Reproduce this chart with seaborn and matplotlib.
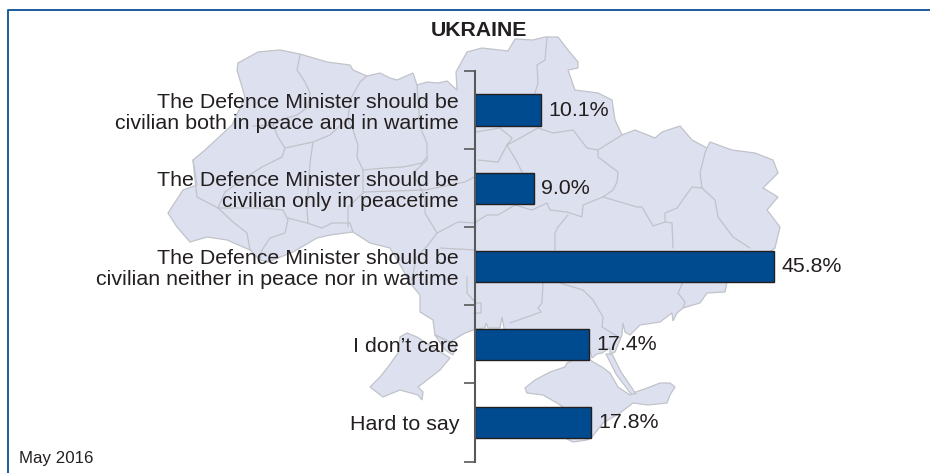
import matplotlib
matplotlib.use('Agg')
import matplotlib.pyplot as plt
import seaborn as sns
import pandas as pd

categories = [
    'The Defence Minister should be\ncivilian both in peace and in wartime',
    'The Defence Minister should be\ncivilian only in peacetime',
    'The Defence Minister should be\ncivilian neither in peace nor in wartime',
    'I don\u2019t care',
    'Hard to say',
]
values = [10.1, 9.0, 45.8, 17.4, 17.8]

TEXT = '#231f20'
BAR = '#004a90'
AXIS = '#58595b'
MAP_FILL = '#dde0ee'
MAP_EDGE = '#c1c3ca'
FRAME = '#1c5b9c'

# backdrop map, traced in picture pixels
mainland = [
    (237, 70), (238, 63), (258, 52), (280, 50), (300, 54), (327, 62), (350, 65),
    (353, 70), (367, 76), (380, 73), (390, 78), (397, 80), (413, 73), (417, 85),
    (427, 82), (438, 83), (447, 81), (457, 90), (456, 72), (467, 52), (482, 48),
    (508, 51), (515, 39), (533, 40), (545, 37), (558, 37), (568, 50), (578, 62),
    (578, 68), (568, 70), (575, 90), (598, 93), (612, 100), (615, 120), (622, 135),
    (635, 130), (655, 138), (662, 132), (680, 126), (692, 140), (707, 148),
    (710, 142), (732, 150), (755, 153), (773, 160), (778, 173), (763, 188),
    (778, 197), (767, 210), (780, 227), (775, 248), (727, 282), (725, 292),
    (707, 293), (700, 303), (693, 305), (683, 308), (677, 313), (673, 321),
    (672, 313), (660, 322), (640, 325), (630, 335), (625, 332), (623, 323),
    (622, 335), (615, 352), (610, 354), (610, 348), (602, 353), (597, 354),
    (592, 358), (588, 345), (504, 340), (504, 328), (502, 317), (500, 328),
    (488, 328), (486, 323), (485, 328), (476, 329), (465, 333), (450, 342),
    (435, 335), (433, 320), (420, 312), (420, 295), (410, 283), (403, 270),
    (390, 248), (370, 243), (353, 232), (330, 235), (317, 238), (293, 252),
    (268, 262), (260, 260), (250, 250), (227, 240), (207, 237), (190, 242),
    (177, 227), (168, 213), (183, 190), (197, 185), (193, 160), (205, 150),
    (232, 125), (245, 97),
]
odesa_south = [
    (400, 337), (407, 333), (417, 337), (450, 358), (440, 370), (418, 387),
    (423, 392), (422, 400), (418, 395), (400, 390), (383, 397), (370, 387),
    (380, 377), (388, 367), (398, 353),
]
liman_tip = [(435, 335), (450, 342), (456, 347), (453, 355), (445, 350)]
crimea = [
    (585, 355), (567, 363), (565, 367), (550, 372), (535, 380), (525, 388),
    (527, 393), (543, 395), (557, 403), (563, 407), (565, 438), (573, 442),
    (587, 440), (592, 437), (603, 423), (620, 413), (633, 403), (648, 405),
    (667, 403), (670, 395), (675, 387), (670, 383), (660, 383), (650, 387),
    (633, 393), (630, 395), (618, 387), (610, 373), (602, 367), (593, 362),
]
spit = [(606, 354), (612, 354), (621, 372), (636, 394), (631, 394), (616, 374)]

borders = [
    [(300, 55), (297, 70), (305, 82), (310, 93), (308, 107), (297, 115), (280, 120), (273, 125), (253, 126)],
    [(273, 125), (278, 137), (285, 148), (282, 157), (262, 167), (245, 178), (225, 192), (218, 208)],
    [(193, 160), (195, 180), (197, 197), (218, 208), (233, 222), (247, 233), (250, 250)],
    [(218, 208), (263, 208), (283, 210), (288, 220), (285, 233), (270, 238), (262, 250), (260, 260)],
    [(288, 218), (307, 223), (322, 228), (332, 223), (350, 223), (353, 232)],
    [(285, 148), (313, 142), (310, 163), (308, 193), (307, 210), (308, 223)],
    [(313, 142), (330, 135), (343, 123)],
    [(367, 76), (360, 82), (350, 100), (348, 120), (353, 130), (358, 145), (357, 157), (363, 170), (385, 168), (403, 167), (422, 163), (427, 157)],
    [(363, 170), (363, 193), (348, 207), (348, 227)],
    [(417, 85), (420, 127), (427, 143), (427, 160), (413, 173), (425, 197), (425, 213), (437, 233), (428, 245)],
    [(363, 192), (425, 190), (465, 182), (476, 176)],
    [(437, 233), (458, 222), (476, 223)],
    [(428, 245), (416, 258), (412, 280)],
    [(440, 248), (476, 250)],
    [(467, 277), (467, 293), (476, 303), (481, 303), (481, 313), (474, 313)],
    [(476, 132), (500, 128), (512, 138), (507, 145), (520, 138), (538, 128), (553, 133), (573, 130), (587, 148), (598, 150), (622, 135)],
    [(598, 150), (598, 157), (618, 172), (617, 182), (613, 190), (603, 197), (583, 205), (582, 217), (567, 212), (550, 210), (547, 203), (532, 210), (515, 205), (498, 215), (487, 215), (476, 222)],
    [(507, 145), (498, 162), (478, 160)],
    [(507, 145), (517, 162), (522, 172)],
    [(603, 197), (637, 207), (642, 207), (653, 226), (665, 222), (672, 223), (673, 248)],
    [(665, 222), (665, 213), (677, 208), (692, 187), (702, 188), (700, 173), (705, 153), (707, 148)],
    [(702, 188), (715, 200), (718, 217), (733, 237), (750, 248)],
    [(568, 215), (558, 227), (555, 233), (555, 250)],
    [(543, 282), (542, 303), (538, 308), (541, 312), (510, 323)],
    [(560, 283), (583, 290), (593, 300), (603, 317), (602, 327), (620, 338)],
    [(683, 282), (678, 293), (685, 302), (683, 308)],
    [(547, 37), (545, 60), (537, 65), (538, 83), (535, 93)],
]

sns.set_theme(style='white')
plt.rcParams['font.family'] = ['Liberation Sans', 'DejaVu Sans']

W, H = 930, 473
fig = plt.figure(figsize=(W / 100, H / 100), dpi=100, facecolor='white')

# full figure axes in pixels for the backdrop
bg = fig.add_axes([0, 0, 1, 1], zorder=0)
bg.set_xlim(0, W)
bg.set_ylim(H, 0)
bg.axis('off')
for shape in [mainland, odesa_south, liman_tip, crimea, spit]:
    bg.fill(*zip(*shape), facecolor=MAP_FILL, edgecolor=MAP_EDGE, linewidth=0.9)
for line in borders:
    bg.plot(*zip(*line), color=MAP_EDGE, linewidth=0.9)
bg.plot([7.5, 7.5, W], [H, 10, 10], color=FRAME, linewidth=1.4)

# bars
ax_left, ax_top, ax_bottom = 475, 71, 461.5
ax = fig.add_axes([ax_left / W, 1 - ax_bottom / H, 1 - ax_left / W, (ax_bottom - ax_top) / H], zorder=1)
ax.patch.set_alpha(0)

df = pd.DataFrame({'category': categories, 'value': values})
sns.barplot(data=df, x='value', y='category', orient='h', color=BAR, saturation=1,
            width=0.4, edgecolor=TEXT, linewidth=1, ax=ax)
ax.set_xlim(0, (W - ax_left) / 6.53)
ax.set_ylim(len(values) - 0.5, -0.5)
ax.set_xlabel('')
ax.set_ylabel('')
ax.set_xticks([])

ax.set_yticks([i - 0.5 for i in range(len(values) + 1)])
ax.set_yticklabels([])
ax.set_yticks(range(len(values)), minor=True)
ax.set_yticklabels(categories, minor=True, fontsize=15.4, color=TEXT,
                   linespacing=1.13, ha='right', multialignment='right')
ax.tick_params(axis='y', which='major', length=8, width=1.2, color=AXIS, left=True)
ax.tick_params(axis='y', which='minor', length=0, pad=11.5, left=False)

sns.despine(ax=ax, top=True, right=True, bottom=True)
ax.spines['left'].set_color(AXIS)
ax.spines['left'].set_linewidth(1.5)

ax.bar_label(ax.containers[0], fmt='%.1f%%', padding=5.5, fontsize=15.4, color=TEXT)

fig.text(478.5 / W, 1 - 30.5 / H, 'UKRAINE', fontsize=15.3, fontweight='bold', color=TEXT,
         ha='center', va='center')
fig.text(19 / W, 1 - 458 / H, 'May 2016', fontsize=12.2, color=TEXT, ha='left', va='center')

fig.savefig('out.png', dpi=100)
